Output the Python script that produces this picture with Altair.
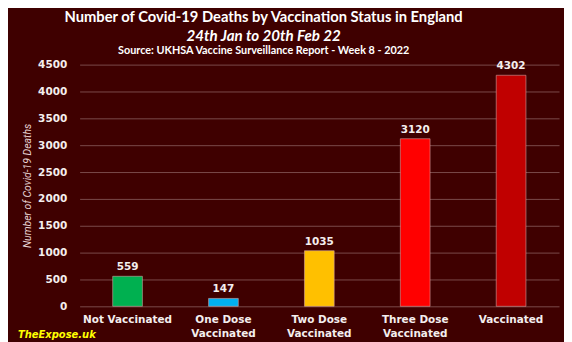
import altair as alt
import pandas as pd

categories = ["Not Vaccinated", "One Dose Vaccinated", "Two Dose Vaccinated",
              "Three Dose Vaccinated", "Vaccinated"]
deaths = [559, 147, 1035, 3120, 4302]
bar_colors = ["#00B050", "#00B0F0", "#FFC000", "#FF0000", "#C00000"]
y_ticks = [0, 500, 1000, 1500, 2000, 2500, 3000, 3500, 4000, 4500]

title_line1 = "Number of Covid-19 Deaths by Vaccination Status in England"
title_line2 = "24th Jan to 20th Feb 22"
title_line3 = "Source: UKHSA Vaccine Surveillance Report - Week 8 - 2022"
watermark = "TheExpose.uk"
y_title = "Number of Covid-19 Deaths"

BG = "#3f0000"
TXT = "#f4eeee"
LABEL_FONT = "DejaVu Sans"
TITLE_FONT = "Lato"

df = pd.DataFrame({"status": categories, "deaths": deaths, "color": bar_colors})

x_enc = alt.X(
    "status:N", sort=categories,
    scale=alt.Scale(paddingInner=0.69, paddingOuter=0.345),
    axis=alt.Axis(
        title=None, labelAngle=0,
        labelExpr="split(replace(datum.label, 'Dose ', 'Dose|'), '|')",
        labelFont=LABEL_FONT, labelFontWeight="bold", labelFontSize=10.5,
        labelColor=TXT, labelPadding=8, labelLineHeight=14,
        domain=False, ticks=False, grid=False,
    ),
)
y_enc = alt.Y(
    "deaths:Q",
    scale=alt.Scale(domain=[0, 4500], nice=False),
    axis=alt.Axis(
        values=y_ticks, tickCount=10, format="d", labelOverlap=False, title=y_title,
        titleX=-52, titleY=121.5, titleAngle=-90, titleAlign="center",
        titleBaseline="middle", titleFont="Liberation Sans Narrow, Roboto",
        titleFontStyle="italic", titleFontWeight="normal", titleFontSize=10.5,
        titleColor="#e6d2d2",
        labelFont=LABEL_FONT, labelFontWeight="bold", labelFontSize=10.5,
        labelColor=TXT, labelPadding=13,
        ticks=False, domain=False, grid=True,
        gridColor="#7a4a4a", gridWidth=1,
    ),
)

bars = alt.Chart(df).mark_bar(stroke="#d8a8a8", strokeWidth=0.8, strokeOpacity=0.7).encode(
    x=x_enc, y=y_enc,
    color=alt.Color("color:N", scale=None, legend=None),
)

values = alt.Chart(df).mark_text(
    baseline="bottom", dy=-4, font=LABEL_FONT, fontWeight="bold",
    fontSize=10.5, color=TXT,
).encode(x=x_enc, y=y_enc, text="deaths:Q")

def annotation(text, xpos, ypos, size, style="normal", align="center", color="#ffffff",
               font=TITLE_FONT):
    return alt.Chart(pd.DataFrame({"t": [text]})).mark_text(
        align=align, baseline="middle", font=font, fontWeight="bold",
        fontStyle=style, fontSize=size, color=color,
    ).encode(x=alt.value(xpos), y=alt.value(ypos), text="t:N")

t1 = annotation(title_line1, 185, -47, 14.8)
t2 = annotation(title_line2, 185, -29, 15.2, style="italic")
t3 = annotation(title_line3, 185, -14, 10.9)
wm = annotation(watermark, -62, 272, 10, style="italic", align="left", color="#ffff00",
                font="DejaVu Sans")

chart = alt.layer(bars, values, t1, t2, t3, wm).properties(
    width=482, height=243,
    autosize=alt.AutoSizeParams(type="none"),
    padding={"left": 72, "top": 56, "right": 5, "bottom": 45},
    background=BG,
).configure_view(stroke=None).configure_axis(labelOverlap=False)

chart.save("out.html", embed_options={"renderer": "svg", "actions": False})
